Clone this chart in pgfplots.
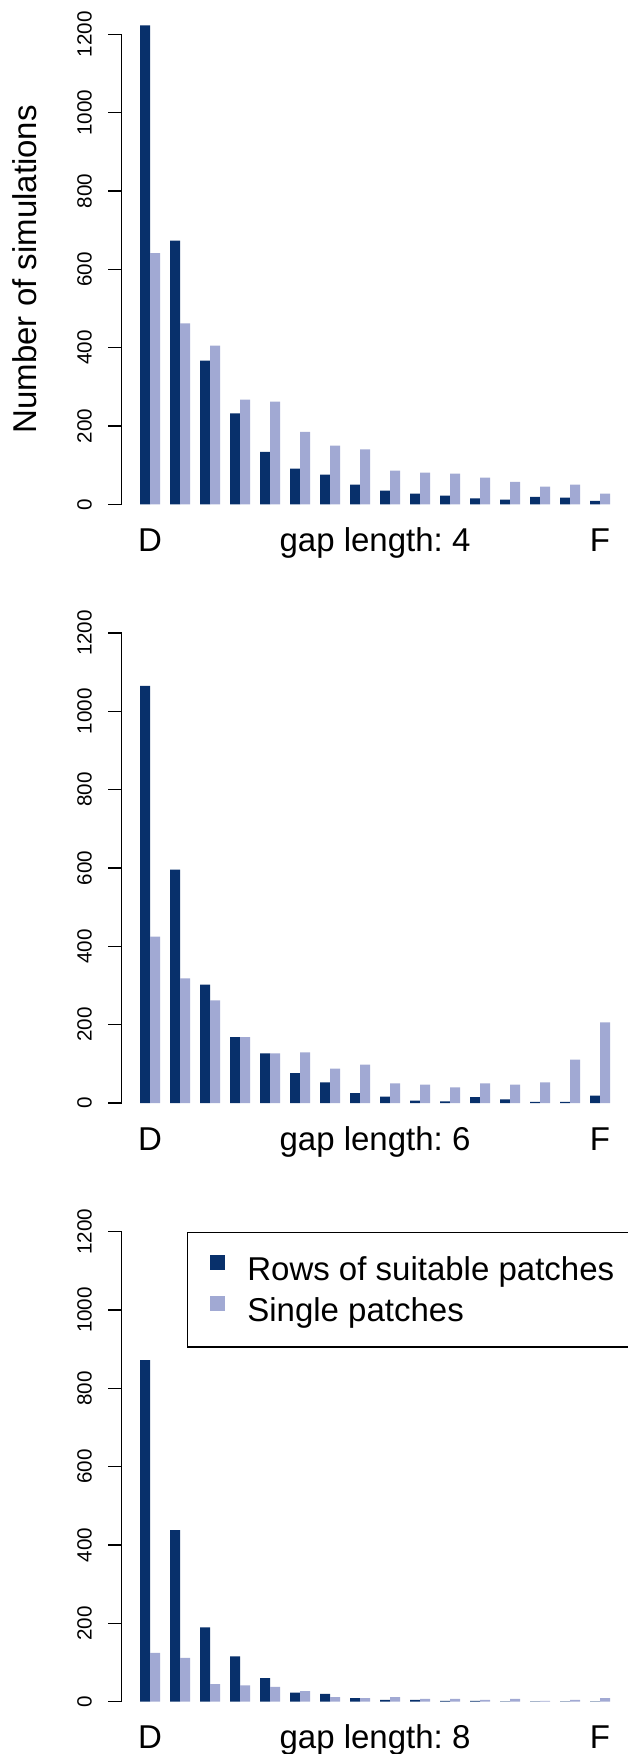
\documentclass[border=0pt]{standalone}
\usepackage{fontspec}
\setmainfont{Liberation Sans}
\usepackage{pgfplots}
\usepackage{pgfplotstable}
\pgfplotsset{compat=1.18}
\definecolor{navy}{HTML}{08306B}
\definecolor{lav}{HTML}{A1A9D3}
\frenchspacing

\pgfplotstableread{
k dark light
1 1223 641
2 673 462
3 367 405
4 232 267
5 134 262
6 91 185
7 76 150
8 50 140
9 35 86
10 27 81
11 22 78
12 15 68
13 12 57
14 19 45
15 17 50
16 9 27
}\dataA

\pgfplotstableread{
k dark light
1 1065 425
2 596 318
3 302 262
4 168 168
5 127 127
6 76 129
7 53 88
8 25 98
9 16 50
10 6 47
11 4 40
12 15 50
13 9 47
14 3 53
15 3 111
16 19 206
}\dataB

\pgfplotstableread{
k dark light
1 872 125
2 438 112
3 190 45
4 116 42
5 60 38
6 23 27
7 20 12
8 9 9
9 5 12
10 5 7
11 2 7
12 2 5
13 1 7
14 1 2
15 1 5
16 1 9
}\dataC

\pgfplotsset{
  panel/.style={
    scale only axis, width=251.75pt, height=253.8pt, anchor=south west,
    xmin=-0.85, xmax=49.5, ymin=-48, ymax=1248,
    axis x line*=bottom, axis y line*=left, axis line style={draw=none},
    ytick={0,200,...,1200}, tick align=outside, major tick length=6.7pt,
    ytick style={black, line width=0.75pt},
    yticklabel style={font=\fontsize{10.3}{12}\selectfont, rotate=90, anchor=base},
    yticklabel shift=8.2pt,
    /pgf/number format/assume math mode=true,
    /pgf/number format/1000 sep={},
    xtick={2,24.5,47}, xtick style={draw=none},
    xticklabel style={font=\fontsize{16.5}{19.8}\selectfont\frenchspacing, anchor=base},
    xticklabel shift=7.4pt,
    clip=false,
  },
  darkbar/.style={ybar, bar width=1, bar shift=0pt, fill=navy, draw=none},
  lightbar/.style={ybar, bar width=1, bar shift=0pt, fill=lav, draw=none},
}

\begin{document}
\begin{tikzpicture}
\path[use as bounding box] (0,0) rectangle (313.5pt,-877pt);

% panel 1
\begin{axis}[panel, at={(60.75pt,-261.55pt)},
  xticklabels={D,{gap length: 4},F},
  ylabel={Number of simulations},
  every axis y label/.style={at={(axis description cs:-0.1684,0.5)}, rotate=90, anchor=base, font=\fontsize{16.5}{19.8}\selectfont},
]
\addplot[darkbar] table[x expr=3*\thisrow{k}-1.5, y=dark] {\dataA};
\addplot[lightbar] table[x expr=3*\thisrow{k}-0.5, y=light] {\dataA};
\draw[line width=0.75pt] (axis cs:-0.85,0) -- (axis cs:-0.85,1200);
\end{axis}

% panel 2
\begin{axis}[panel, at={(60.75pt,-560.9pt)},
  xticklabels={D,{gap length: 6},F},
]
\addplot[darkbar] table[x expr=3*\thisrow{k}-1.5, y=dark] {\dataB};
\addplot[lightbar] table[x expr=3*\thisrow{k}-0.5, y=light] {\dataB};
\draw[line width=0.75pt] (axis cs:-0.85,0) -- (axis cs:-0.85,1200);
\end{axis}

% panel 3
\begin{axis}[panel, at={(60.75pt,-860.25pt)},
  xticklabels={D,{gap length: 8},F},
  legend cell align=left,
  legend image code/.code={\path (0pt,-3.3pt); \fill[#1,draw=none] (0pt,0pt) rectangle (7.35pt,7.35pt);},
  legend style={at={(axis cs:5.67,1200)}, anchor=north west, draw=black, line width=0.65pt,
    inner xsep=11.3pt, inner ysep=11.5pt, font=\fontsize{16.5}{19.8}\selectfont,
    nodes={inner sep=0pt}, row sep=6.2pt, column sep=11.35pt},
]
\addplot[darkbar] table[x expr=3*\thisrow{k}-1.5, y=dark] {\dataC};
\addlegendentry{Rows of suitable patches}
\addplot[lightbar] table[x expr=3*\thisrow{k}-0.5, y=light] {\dataC};
\addlegendentry{Single patches}
\draw[line width=0.75pt] (axis cs:-0.85,0) -- (axis cs:-0.85,1200);
\end{axis}
\end{tikzpicture}
\end{document}
